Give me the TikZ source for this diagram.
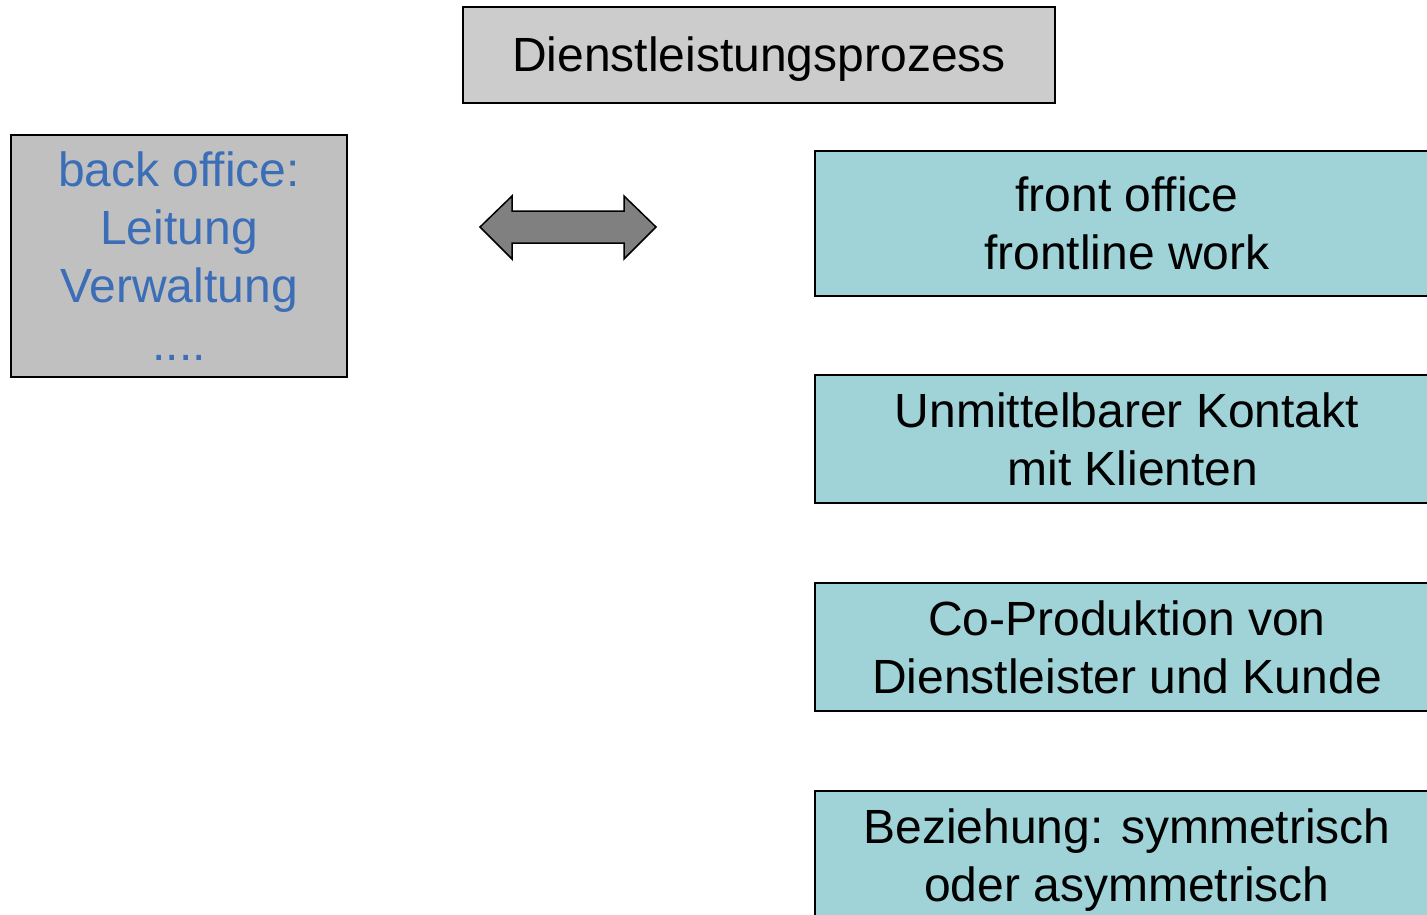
\documentclass[tikz,border=0pt]{standalone}
\usepackage{fontspec}
\setmainfont{Liberation Sans}
\definecolor{headgray}{RGB}{204,204,204}
\definecolor{backgray}{RGB}{192,192,192}
\definecolor{frontteal}{RGB}{159,211,216}
\definecolor{backblue}{RGB}{59,110,182}
\definecolor{arrowgray}{RGB}{128,128,128}
\tikzset{
  box/.style={draw=black, line width=2pt, rectangle, inner sep=0pt, align=center,
    font=\fontsize{48}{58}\selectfont},
  headbox/.style={box, fill=headgray},
  backbox/.style={box, fill=backgray, text=backblue},
  frontbox/.style={box, fill=frontteal, minimum width=624pt},
  twoway/.style={draw=black, line width=1.5pt, fill=arrowgray, line join=miter}
}
\begin{document}
\begin{tikzpicture}[x=1pt, y=-1pt]
  \useasboundingbox (0,0) rectangle (1427,914);
  \clip (0,0) rectangle (1427,914);
  \fill[white] (0,0) rectangle (1427,914);

  % title
  \node[headbox, minimum width=592pt, minimum height=96pt, text depth=2pt] (title) at (759,55)
    {Dienstleistungsprozess};

  % back office
  \node[backbox, minimum width=336pt, minimum height=242pt] (back) at (179,256)
    {back office:\\Leitung\\Verwaltung\\....};

  % two-way arrow between back and front office
  \draw[twoway] (480,227) -- (512,196) -- (512,211) -- (624,211) -- (624,196)
    -- (656,227) -- (624,259) -- (624,243) -- (512,243) -- (512,259) -- cycle;

  % front office column
  \node[frontbox, minimum height=145pt] (front) at (1127,223.5)
    {front office\\frontline work};
  \node[frontbox, minimum height=128pt] (contact) at (1127,439)
    {Unmittelbarer Kontakt\\\hspace*{12pt}mit Klienten};
  \node[frontbox, minimum height=128pt] (coprod) at (1127,647)
    {Co-Produktion von\\Dienstleister und Kunde};
  \node[frontbox, minimum height=138pt] (relation) at (1127,860)
    {Beziehung: symmetrisch\\oder asymmetrisch};
\end{tikzpicture}
\end{document}
